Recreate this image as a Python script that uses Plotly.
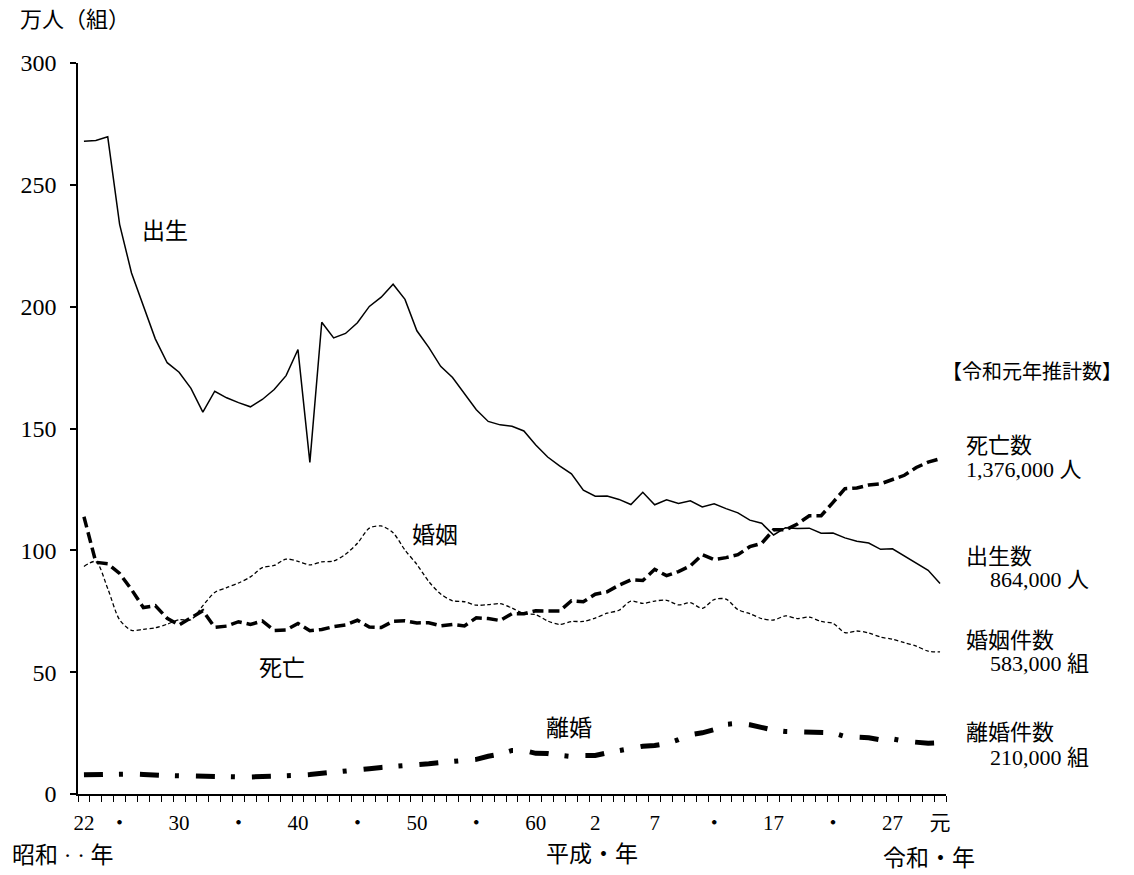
import plotly.graph_objects as go

years = list(range(1947, 2020))

births = [267.9, 268.2, 269.7, 233.8, 213.8, 200.5, 186.8, 177.0, 173.1, 166.5,
          156.7, 165.3, 162.6, 160.6, 158.9, 161.9, 166.0, 171.7, 182.4, 136.1,
          193.6, 187.2, 189.0, 193.4, 200.1, 203.9, 209.2, 203.0, 190.1, 183.3,
          175.5, 170.9, 164.3, 157.7, 152.9, 151.5, 150.9, 149.0, 143.2, 138.3,
          134.7, 131.4, 124.7, 122.2, 122.3, 120.9, 118.8, 123.8, 118.7, 120.7,
          119.2, 120.3, 117.8, 119.1, 117.1, 115.4, 112.4, 111.1, 106.3, 109.3,
          109.0, 109.1, 107.0, 107.1, 105.1, 103.7, 103.0, 100.4, 100.6, 97.7,
          94.6, 91.8, 86.4]

deaths = [113.8, 95.1, 94.5, 90.5, 83.9, 76.5, 77.3, 72.1, 69.4, 72.4,
          75.2, 68.4, 68.9, 70.7, 69.6, 71.0, 67.1, 67.3, 70.0, 67.0,
          67.5, 68.7, 69.4, 71.3, 68.5, 68.3, 70.9, 71.1, 70.2, 70.3,
          69.0, 69.6, 69.0, 72.3, 72.0, 71.2, 74.0, 74.0, 75.2, 75.1,
          75.1, 79.3, 78.9, 82.0, 83.0, 85.7, 87.9, 87.6, 92.2, 89.6,
          91.3, 93.6, 98.2, 96.2, 97.0, 98.2, 101.5, 102.9, 108.4, 108.4,
          110.8, 114.2, 114.2, 119.7, 125.3, 125.6, 126.8, 127.3, 129.0, 130.8,
          134.0, 136.2, 137.6]

marriages = [93.4, 95.4, 84.3, 71.5, 67.2, 67.6, 68.2, 69.7, 71.5, 71.5,
             77.3, 82.7, 84.7, 86.6, 89.1, 92.9, 93.8, 96.4, 95.5, 94.0,
             95.3, 95.6, 98.4, 102.9, 109.1, 110.0, 107.2, 100.1, 94.2, 87.2,
             82.1, 79.3, 78.9, 77.5, 77.7, 78.1, 76.3, 74.0, 73.6, 71.0,
             69.6, 70.8, 70.8, 72.2, 74.2, 75.4, 79.2, 78.2, 79.2, 79.5,
             77.6, 78.5, 76.2, 79.8, 80.0, 75.7, 74.0, 72.0, 71.4, 73.1,
             72.0, 72.6, 70.8, 70.0, 66.2, 66.9, 66.1, 64.4, 63.5, 62.1,
             60.7, 58.6, 58.3]

divorces = [7.9, 8.0, 8.2, 8.4, 8.2, 8.0, 7.6, 7.6, 7.5, 7.3,
            7.1, 7.2, 7.2, 7.0, 7.0, 7.1, 7.0, 7.2, 7.7, 8.0,
            8.4, 8.7, 9.1, 9.6, 10.4, 10.9, 11.2, 11.4, 11.9, 12.4,
            12.9, 13.2, 13.5, 14.2, 15.5, 16.4, 17.9, 17.9, 16.7, 16.6,
            15.9, 15.4, 15.8, 15.8, 16.9, 17.9, 18.8, 19.6, 19.9, 20.7,
            22.3, 24.3, 25.1, 26.4, 28.6, 29.0, 28.4, 27.1, 26.2, 25.7,
            25.5, 25.1, 25.3, 25.1, 23.6, 23.5, 23.1, 22.2, 22.6, 21.7,
            21.2, 20.8, 21.0]

tick_years = [1947, 1950, 1955, 1960, 1965, 1970, 1975, 1980, 1985,
              1990, 1995, 2000, 2005, 2010, 2015, 2019]
tick_text = ["22", "・", "30", "・", "40", "・", "50", "・", "60",
             "2", "7", "・", "17", "・", "27", "元"]

y_ticks = [0, 50, 100, 150, 200, 250, 300]

FONT = "Liberation Serif, 'Noto Sans CJK JP', serif"
BODY = 8  # default page body margin
W, H = 1134 - BODY, 875 - BODY
# plot area in page pixels: left 69, right 946, top 63, bottom 794
ML = 69 - BODY
MR = W - (946 - BODY)
MT = 63 - BODY
MB = H - (794 - BODY)

fig = go.Figure()
fig.add_trace(go.Scatter(x=years, y=births, mode="lines", name="出生",
                         line=dict(color="black", width=1.5)))
fig.add_trace(go.Scatter(x=years, y=marriages, mode="lines", name="婚姻",
                         line=dict(color="black", width=1.3, dash="4px,2.5px",
                                   shape="spline", smoothing=0.8)))
fig.add_trace(go.Scatter(x=years, y=deaths, mode="lines", name="死亡",
                         line=dict(color="black", width=3.5, dash="11px,5px")))
fig.add_trace(go.Scatter(x=years, y=divorces, mode="lines", name="離婚",
                         line=dict(color="black", width=5, dash="19px,16px,4px,17px")))


def px_x(px):
    return (px - BODY - ML) / (W - ML - MR)


def px_y(py):
    return (H - MB - (py - BODY)) / (H - MT - MB)


def note(text, px, py, xanchor="center", yanchor="middle", size=23):
    fig.add_annotation(text=text, x=px_x(px), y=px_y(py), xref="paper", yref="paper",
                       xanchor=xanchor, yanchor=yanchor, showarrow=False,
                       font=dict(family=FONT, size=size, color="black"))


note("万人（組）", 124, 20, xanchor="right", size=22)
note("出生", 157, 231)
note("婚姻", 430, 535)
note("死亡", 275, 668)
note("離婚", 565, 728)
note("【令和元年推計数】", 1126, 372, xanchor="right", size=20)
note("死亡数", 964, 445, xanchor="left", size=22)
note("1,376,000 人", 964, 469, xanchor="left", size=22)
note("出生数", 964, 556, xanchor="left", size=22)
note("864,000 人", 988, 579, xanchor="left", size=22)
note("婚姻件数", 964, 640, xanchor="left", size=22)
note("583,000 組", 988, 663, xanchor="left", size=22)
note("離婚件数", 964, 732, xanchor="left", size=22)
note("210,000 組", 988, 757, xanchor="left", size=22)
note("昭和 · · 年", 107, 855, xanchor="right")
note("平成・年", 540, 854, xanchor="left")
note("令和・年", 880, 858, xanchor="left")

fig.update_layout(
    width=W, height=H,
    margin=dict(l=ML, r=MR, t=MT, b=MB),
    paper_bgcolor="white", plot_bgcolor="white",
    showlegend=False,
    font=dict(family=FONT, size=22, color="black"),
    xaxis=dict(range=[1946.5, 2019.5], tickmode="array", tickvals=tick_years,
               ticktext=tick_text, ticks="", showgrid=False, zeroline=False,
               showline=True, linecolor="black", linewidth=1.5,
               ticklabelstandoff=9,
               tickfont=dict(family=FONT, size=21, color="black"),
               minor=dict(tickmode="linear", tick0=1946.5, dtick=1, ticks="outside",
                          ticklen=6, tickwidth=1.3, tickcolor="black", showgrid=False)),
    yaxis=dict(range=[0, 300], tickmode="array", tickvals=y_ticks, ticks="outside",
               ticklen=6, tickwidth=1.5, tickcolor="black", showgrid=False,
               zeroline=False, showline=True, linecolor="black", linewidth=1.5,
               ticklabelstandoff=9,
               tickfont=dict(family=FONT, size=24, color="black")),
)

fig.write_html("out.html")
